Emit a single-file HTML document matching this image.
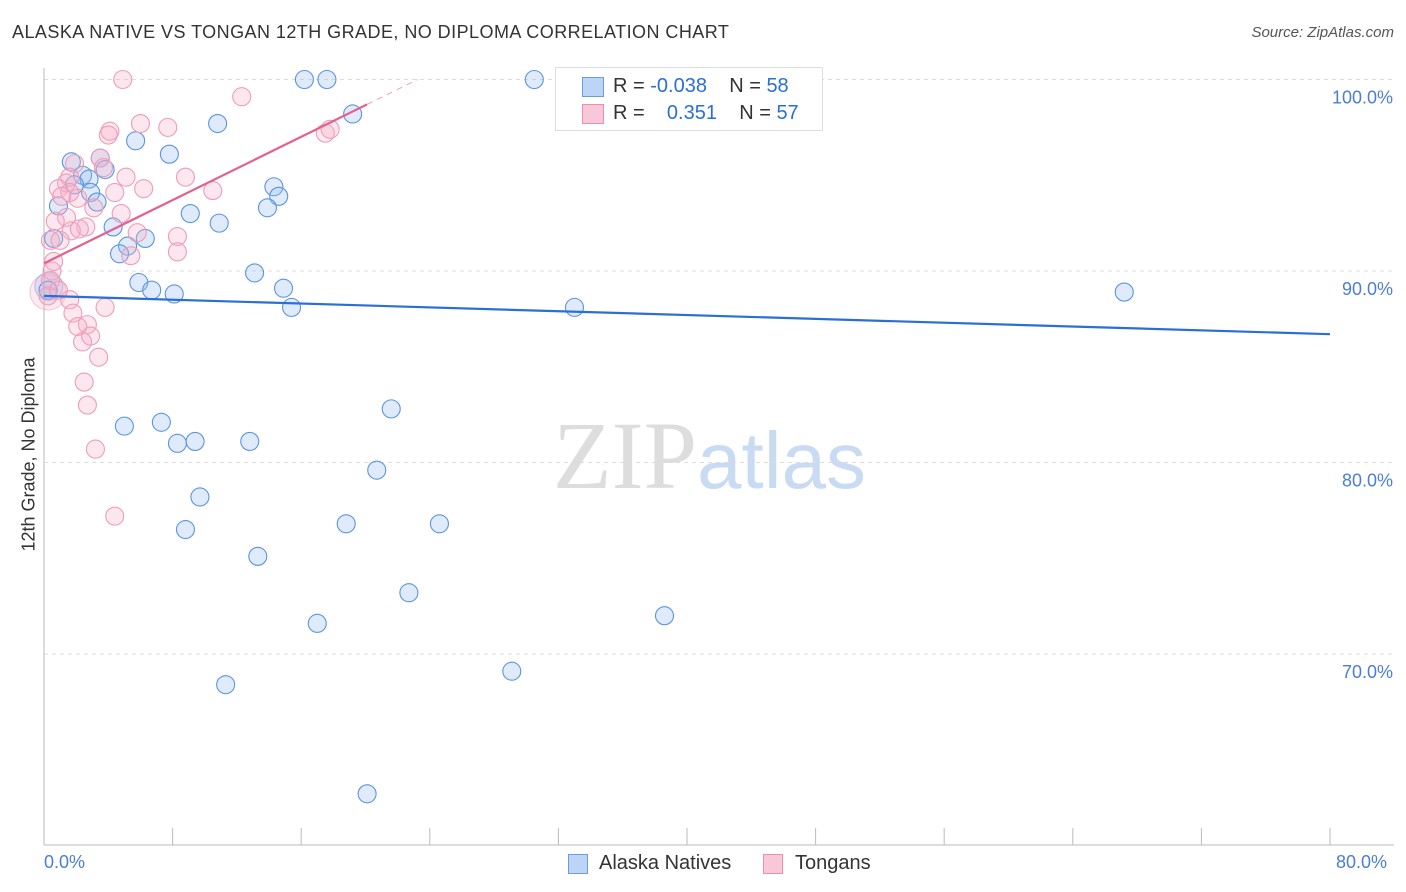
<!DOCTYPE html>
<html><head><meta charset="utf-8"><style>
body{margin:0;background:#fff;font-family:"Liberation Sans",sans-serif;}
#wrap{position:relative;width:1406px;height:892px;overflow:hidden;}
.t{position:absolute;white-space:nowrap;}
</style></head><body>
<div id="wrap">
<div class="t" style="left:12px;top:22px;font-size:18px;color:#333;letter-spacing:0.45px">ALASKA NATIVE VS TONGAN 12TH GRADE, NO DIPLOMA CORRELATION CHART</div>
<div class="t" style="right:12px;top:24px;font-size:15px;color:#555;font-style:italic">Source: ZipAtlas.com</div>
<div class="t" style="left:553px;top:400px;font-family:'Liberation Serif',serif;font-size:96px;color:#ddd">ZIP<span style="font-family:'Liberation Sans',sans-serif;color:#c9dbf3;font-size:80px">atlas</span></div>
<svg id="svg" width="1406" height="892" style="position:absolute;left:0;top:0"></svg>
</div>
<script>
const blueX=[16.2,17.6,30.5,41.6,44.7,19.2,10.8,5.7,7.8,1.7,3.5,3.8,2.4,2.8,1.9,2.9,3.3,0.9,14.3,14.6,13.9,9.1,10.9,4.3,6.3,5.2,4.7,13.1,5.9,6.7,8.1,14.9,15.4,33.0,67.2,0.25,0.6,21.6,5.0,7.3,8.3,9.4,12.8,20.7,9.7,8.8,18.8,24.6,13.3,22.7,38.6,17.0,29.1,11.3,20.1];
const blueY=[100,100,100,100,100,98.2,97.7,96.8,96.1,95.7,95.9,95.3,95.0,94.8,94.5,94.1,93.6,93.4,94.4,93.9,93.3,93.0,92.5,92.3,91.7,91.3,90.9,89.9,89.4,89.0,88.8,89.1,88.1,88.1,88.9,89.0,91.7,82.8,81.9,82.1,81.0,81.1,81.1,79.6,78.2,76.5,76.8,76.8,75.1,73.2,72.0,71.6,69.1,68.4,62.7];
const pinkX=[4.9,12.3,6.0,7.7,4.1,4.0,17.5,17.8,3.5,1.9,3.7,1.6,1.4,0.9,2.1,3.1,4.4,6.2,8.8,10.5,5.1,4.8,1.4,0.7,2.6,1.7,2.2,0.4,5.8,8.3,8.3,5.4,0.5,0.4,0.25,1.6,0.9,1.8,3.8,2.7,2.1,2.4,2.9,3.4,2.5,2.7,3.2,4.4,1.0,0.6,1.6,1.1];
const pinkY=[100,99.1,97.7,97.5,97.3,97.1,97.2,97.4,95.9,95.6,95.4,94.9,94.6,94.3,93.8,93.3,94.1,94.3,94.9,94.2,94.9,93.0,92.8,92.6,92.3,92.1,92.2,91.6,92.0,91.8,91.0,90.8,90.0,89.5,88.7,88.5,89.0,87.8,88.1,87.2,87.1,86.3,86.6,85.5,84.2,83.0,80.7,77.2,91.6,90.5,94.1,93.9];
const blueFit=[88.7,86.7];
const pinkFit=[90.4,98.7,20.1];
const yTicks=[100,90,80,70];
const X=v=>44+v*16.075, Y=v=>79.5+(100-v)*19.15;
const svg=document.getElementById('svg');const NS='http://www.w3.org/2000/svg';
function mk(tag,attrs,name){const e=document.createElementNS(NS,tag);for(const k in attrs)e.setAttribute(k,attrs[k]);


svg.appendChild(e);return e;}
yTicks.forEach(v=>{mk('line',{x1:44,x2:1394,y1:Y(v),y2:Y(v),stroke:'#ddd','stroke-dasharray':'4,4'},'gridline');
const t=mk('text',{x:1393,y:Y(v)+24,'text-anchor':'end','font-size':18,fill:'#4a7fd4'},'y-tick-label');t.textContent=v.toFixed(1)+'%';});
mk('line',{x1:44,x2:44,y1:68,y2:845,stroke:'#bbb'},'y-axis');
mk('line',{x1:44,x2:1394,y1:845,y2:845,stroke:'#bbb'},'x-axis');
for(let i=0;i<=10;i++){mk('line',{x1:X(i*8),x2:X(i*8),y1:828,y2:845,stroke:'#bbb'},'x-tick');}
mk('circle',{cx:X(0.25),cy:Y(88.9),r:18,fill:'rgba(240,150,180,0.2)',stroke:'rgba(230,120,160,0.4)'},'big-point');
mk('circle',{cx:X(0.3),cy:Y(89.2),r:14,fill:'rgba(120,160,230,0.2)',stroke:'rgba(80,130,220,0.4)'},'big-point');
blueX.forEach((x,i)=>mk('circle',{cx:X(x),cy:Y(blueY[i]),r:9,fill:'rgba(150,190,240,0.3)',stroke:'#5b94e0','stroke-width':1.1},'alaska-native-point'));
pinkX.forEach((x,i)=>mk('circle',{cx:X(x),cy:Y(pinkY[i]),r:9,fill:'rgba(245,175,200,0.3)',stroke:'#ee9cba','stroke-width':1.1},'tongan-point'));
mk('line',{x1:X(0),y1:Y(blueFit[0]),x2:X(80),y2:Y(blueFit[1]),stroke:'#2a6fd6','stroke-width':2.2},'alaska-trend-line');
const ps=(pinkFit[1]-pinkFit[0])/pinkFit[2];
mk('line',{x1:X(0),y1:Y(pinkFit[0]),x2:X(pinkFit[2]),y2:Y(pinkFit[1]),stroke:'#e5608e','stroke-width':2.2},'tongan-trend-line');
mk('line',{x1:X(pinkFit[2]),y1:Y(pinkFit[1]),x2:X((100-pinkFit[0])/ps),y2:Y(100),stroke:'#f0a0bd','stroke-width':1,'stroke-dasharray':'6,5'},'tongan-trend-extension');
</script>
<div class="t" style="left:-68px;top:444px;transform:rotate(-90deg);font-size:18px;color:#333">12th Grade, No Diploma</div>
<div class="t" style="left:44px;top:852px;font-size:18px;color:#4a7fd4">0.0%</div>
<div class="t" style="left:1336px;top:852px;font-size:18px;color:#4a7fd4">80.0%</div>
<div style="position:absolute;left:555px;top:67px;width:266px;height:62px;border:1px solid #ddd;background:#fff;font-size:20px;color:#333">
<div style="position:absolute;left:26px;top:9px;width:20px;height:18px;background:#bcd4f5;border:1px solid #6b9be0"></div>
<div class="t" style="left:57px;top:7px">R = <span style="color:#2a6fd6">-0.038</span>&nbsp;&nbsp;&nbsp;&nbsp;N = <span style="color:#2a6fd6">58</span></div>
<div style="position:absolute;left:26px;top:36px;width:20px;height:18px;background:#f8c8d8;border:1px solid #eb8fb0"></div>
<div class="t" style="left:57px;top:34px">R = &nbsp;&nbsp;&nbsp;<span style="color:#2a6fd6">0.351</span>&nbsp;&nbsp;&nbsp;&nbsp;N = <span style="color:#2a6fd6">57</span></div>
</div>
<div>
<div style="position:absolute;left:568px;top:854px;width:18px;height:18px;background:#bcd4f5;border:1px solid #6b9be0"></div>
<div class="t" style="left:599px;top:852px;font-size:20px;color:#333">Alaska Natives</div>
<div style="position:absolute;left:763px;top:854px;width:18px;height:18px;background:#f8c8d8;border:1px solid #eb8fb0"></div>
<div class="t" style="left:795px;top:852px;font-size:20px;color:#333">Tongans</div>
</div>
</body></html>
